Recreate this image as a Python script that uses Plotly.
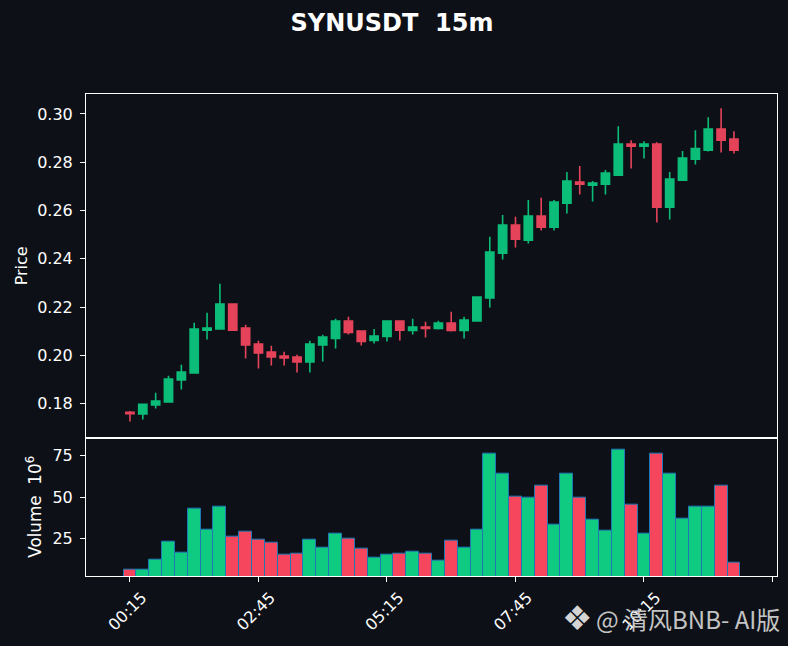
import plotly.graph_objects as go
from plotly.subplots import make_subplots

opens = [.17648, .17574, .17946, .18070, .18981, .19271, .21050, .21093, .22128, .21134, .20472, .20140,
         .19975, .19933, .19726, .20430, .20704, .21424, .21010, .20621, .20786, .21424, .21035, .21175,
         .21117, .21341, .21035, .21424, .22376, .24239, .25399, .24777, .25771, .25315, .26309, .27178,
         .27054, .27095, .27468, .28751, .28668, .28751, .26143, .27261, .28131, .28503, .29373, .28959]
closes = [.17586, .17971, .18112, .19023, .19312, .21093, .21134, .22128, .21050, .20430, .20099, .19933,
          .19892, .19726, .20472, .20761, .21424, .20952, .20579, .20803, .21424, .21050, .21175, .21117,
          .21341, .21035, .21465, .22417, .24280, .25399, .24819, .25771, .25315, .26350, .27220, .27095,
          .27137, .27551, .28751, .28668, .28751, .26143, .27303, .28172, .28569, .29373, .28918, .28503]
highs = [.17698, .17980, .18455, .19159, .19615, .21353, .21767, .22968, .22150, .21270, .20608, .20401,
         .20153, .20029, .20608, .20857, .21519, .21602, .21020, .21093, .21430, .21430, .21519, .21395,
         .21436, .21809, .21602, .22430, .24914, .25812, .25742, .26433, .26528, .26433, .27593, .27841,
         .27220, .27676, .29497, .28917, .28876, .28834, .27593, .28462, .29331, .29869, .30242, .29290]
lows = [.17267, .17350, .17805, .18070, .18592, .19271, .20662, .21093, .21030, .19875, .19461, .19586,
        .19586, .19296, .19296, .19751, .20289, .20869, .20414, .20496, .20579, .20621, .20869, .20745,
        .21076, .20993, .20703, .21410, .21987, .23974, .24471, .24636, .25175, .25175, .25878, .26665,
        .26377, .26665, .27460, .27741, .28155, .25506, .25630, .27250, .27907, .28445, .28404, .28362]
volumes = [6.5, 6.5, 12.5, 23, 16.4, 42.9, 30.2, 44.1, 26, 29, 24.2, 22.4,
           15.2, 15.8, 24.2, 19.4, 27.8, 24.8, 18.8, 13.4, 15.2, 15.8, 17, 15.8,
           11.6, 23.6, 19.4, 30.2, 76, 64, 50.1, 49.5, 56.7, 33.3, 64, 49.5,
           36.3, 29.6, 78.4, 45.3, 27.8, 76, 64, 36.9, 44.1, 44.1, 56.7, 10.5]
tick_pos = [0, 10, 20, 30, 40, 50]
tick_labels = ["00:15", "02:45", "05:15", "07:45", "10:15", ""]

BG = "#0d1117"
GREEN = "#0ecb81"
RED = "#f6465d"
CANDLE_GREEN = "#0bbd78"
CANDLE_RED = "#e5435a"

x = list(range(len(opens)))
bar_colors = [GREEN if c >= o else RED for o, c in zip(opens, closes)]

fig = make_subplots(rows=2, cols=1, shared_xaxes=True, vertical_spacing=0, row_heights=[0.713, 0.287])

fig.add_trace(
    go.Candlestick(
        x=x, open=opens, high=highs, low=lows, close=closes,
        whiskerwidth=0,
        increasing=dict(line=dict(color=CANDLE_GREEN, width=1.6), fillcolor=CANDLE_GREEN),
        decreasing=dict(line=dict(color=CANDLE_RED, width=1.6), fillcolor=CANDLE_RED),
        showlegend=False,
    ),
    row=1, col=1,
)
fig.add_trace(
    go.Bar(
        x=x, y=volumes, width=1,
        marker=dict(color=bar_colors, line=dict(color="#1f77b4", width=1)),
        showlegend=False,
    ),
    row=2, col=1,
)

fig.update_layout(
    width=788,
    height=646,
    margin=dict(l=85.5, r=10.5, t=94, b=69.5),
    plot_bgcolor=BG,
    paper_bgcolor=BG,
    font=dict(family="DejaVu Sans", size=16, color="white"),
    title=dict(text="<b>SYNUSDT  15m</b>", x=0.4975, xanchor="center", y=0.965, yanchor="middle",
               font=dict(size=24, color="white")),
    bargap=0,
    boxgap=0.36,
    boxgroupgap=0,
    xaxis_rangeslider_visible=False,
)

axis_style = dict(showgrid=False, zeroline=False, showline=True, mirror=True, linecolor="white", linewidth=1)
fig.update_xaxes(range=[-3.42, 50.35], tickvals=tick_pos, ticktext=tick_labels, **axis_style)
fig.update_xaxes(ticks="", showticklabels=False, row=1, col=1)
fig.update_xaxes(ticks="outside", ticklen=5, tickcolor="white", tickangle=-45, showticklabels=True,
                 ticklabelshift=12, row=2, col=1)
fig.update_yaxes(ticks="outside", ticklen=5, tickcolor="white", ticklabelstandoff=4, **axis_style)
fig.update_yaxes(title_text="Price", title_font_size=16, range=[0.16594, 0.30828],
                 tickvals=[.18, .20, .22, .24, .26, .28, .30],
                 tickformat=".2f", title_standoff=5, row=1, col=1)
fig.update_yaxes(title_text="Volume  10<sup>6</sup>", title_font_size=16.8, range=[2.4, 85.84], tickvals=[25, 50, 75],
                 title_standoff=6, row=2, col=1)

# watermark
fig.add_annotation(text="❖", xref="paper", yref="paper", x=0.711, y=-0.0875, xanchor="center", yanchor="middle",
                   showarrow=False, font=dict(family="DejaVu Sans", size=34, color="#d4d4d4"))
fig.add_annotation(text="@ 清风BNB- AI版", xref="paper", yref="paper", x=1.007, y=-0.0875, xanchor="right",
                   yanchor="middle", showarrow=False,
                   font=dict(family="Noto Sans CJK SC", size=24, color="#c4c4c4"))

fig.write_html("out.html", config={"displayModeBar": False}, post_script="document.body.style.margin='0';")
